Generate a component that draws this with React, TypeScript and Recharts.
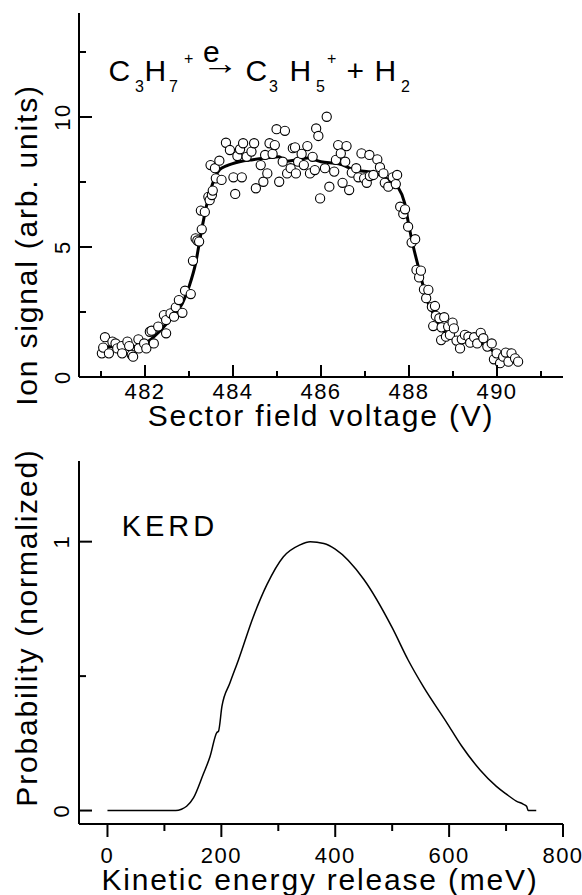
import React from 'react';
import { ComposedChart, Line, Scatter, XAxis, YAxis, Customized } from 'recharts';

const FONT = '"Liberation Sans", Arial, Helvetica, sans-serif';

// top panel: measured ion signal (open circles)
const voltage = [
  481.02, 481.05, 481.09, 481.18, 481.26, 481.33, 481.37, 481.47, 481.48, 481.6,
  481.64, 481.7, 481.73, 481.85, 481.86, 481.98, 482.03, 482.11, 482.15, 482.2,
  482.3, 482.43, 482.48, 482.48, 482.58, 482.66, 482.7, 482.77, 482.85, 482.91,
  483.04, 483.09, 483.15, 483.19, 483.23, 483.27, 483.29, 483.36, 483.44, 483.47,
  483.49, 483.52, 483.54, 483.59, 483.61, 483.69, 483.74, 483.84, 483.93, 484.01,
  484.05, 484.1, 484.16, 484.2, 484.23, 484.31, 484.42, 484.48, 484.52, 484.63,
  484.69, 484.73, 484.78, 484.83, 484.9, 484.95, 484.99, 485.05, 485.13, 485.18,
  485.23, 485.31, 485.36, 485.41, 485.43, 485.48, 485.56, 485.61, 485.69, 485.75,
  485.81, 485.86, 485.89, 485.94, 485.98, 486.09, 486.13, 486.19, 486.3, 486.34,
  486.39, 486.45, 486.49, 486.55, 486.58, 486.64, 486.7, 486.8, 486.85, 486.92,
  486.98, 487.04, 487.1, 487.11, 487.19, 487.28, 487.34, 487.42, 487.45, 487.53,
  487.63, 487.7, 487.73, 487.8, 487.87, 487.91, 487.98, 488.06, 488.14, 488.17,
  488.23, 488.27, 488.34, 488.39, 488.44, 488.52, 488.55, 488.59, 488.61, 488.69,
  488.73, 488.74, 488.8, 488.84, 488.89, 488.93, 488.99, 489.02, 489.08, 489.16,
  489.2, 489.27, 489.35, 489.39, 489.48, 489.55, 489.63, 489.69, 489.78, 489.88,
  489.93, 489.99, 490.07, 490.14, 490.2, 490.26, 490.33, 490.41, 490.48,
];
const signal = [
  0.91, 1.13, 1.53, 0.91, 1.36, 1.29, 1.1, 1.19, 0.91, 1.36,
  1.19, 0.85, 0.78, 1.45, 1.1, 1.29, 1.1, 1.74, 1.78, 1.29,
  1.94, 2.38, 2.19, 1.68, 2.45, 2.32, 2.68, 2.96, 2.47, 3.32,
  3.19, 4.47, 5.33, 5.25, 5.21, 6.4, 5.68, 6.35, 6.93, 6.8,
  8.15, 7.0, 7.17, 8.03, 7.64, 8.32, 7.58, 9.01, 8.73, 7.68,
  7.04, 8.5, 8.76, 7.68, 8.99, 8.47, 8.67, 8.99, 7.26, 8.15,
  7.51, 8.54, 7.83, 8.99, 8.58, 8.92, 9.53, 7.51, 8.28, 9.47,
  7.83, 8.03, 8.8, 8.83, 7.83, 8.28, 8.58, 8.15, 8.88, 7.83,
  8.47, 7.96, 9.56, 9.27, 6.87, 8.03, 10.01, 7.32, 7.9, 8.35,
  8.92, 8.6, 7.47, 8.28, 8.88, 7.19, 7.86, 8.03, 7.68, 8.6,
  7.64, 7.47, 8.54, 7.73, 7.77, 8.37, 8.07, 7.83, 7.47, 7.32,
  7.68, 7.42, 7.77, 6.55, 6.27, 6.45, 5.78, 5.17, 5.3, 4.12,
  3.83, 4.09, 3.37, 3.03, 3.35, 2.7, 1.96, 2.73, 2.35, 2.26,
  1.42, 1.91, 2.3, 1.55, 1.94, 1.62, 2.09, 1.87, 1.4, 1.1,
  1.45, 1.62, 1.55, 1.32, 1.53, 1.29, 1.7, 1.49, 1.17, 1.29,
  0.68, 0.91, 0.53, 0.78, 0.94, 0.59, 0.91, 0.72, 0.59,
];

// top panel: fitted curve (thick line)
const fitVoltage = [
  481.0, 481.3, 481.6, 481.8, 482.0, 482.3, 482.6, 482.85, 483.0, 483.15,
  483.27, 483.4, 483.55, 483.7, 483.85, 484.15, 484.45, 484.75, 485.05, 485.2,
  485.45, 485.7, 486.0, 486.4, 486.8, 487.15, 487.5, 487.75, 487.9, 488.0,
  488.1, 488.25, 488.4, 488.55, 488.7, 488.9, 489.15, 489.4, 489.6, 489.8,
  490.0, 490.2, 490.5,
];
const fitSignal = [
  1.17, 1.16, 1.15, 1.18, 1.29, 1.7, 2.28, 2.83, 3.47, 4.37,
  5.5, 6.6, 7.5, 7.98, 8.12, 8.28, 8.36, 8.42, 8.47, 8.3,
  8.35, 8.42, 8.28, 8.2, 7.95, 7.88, 7.62, 7.3, 6.7, 5.8,
  5.0, 4.0, 3.0, 2.45, 1.96, 1.58, 1.42, 1.36, 1.34, 1.15,
  0.86, 0.7, 0.68,
];

// bottom panel: kinetic energy release distribution
const kerEnergy = [
  0, 60, 120, 130, 139, 151, 168, 180, 192, 195,
  201, 215, 230, 256, 280, 309, 338, 356, 380, 400,
  450, 500, 528, 555, 595, 622, 654, 683, 700, 718,
  730, 736, 739, 753,
];
const kerProb = [
  0, 0, 0, 0.005, 0.016, 0.047, 0.134, 0.2, 0.29, 0.295,
  0.387, 0.474, 0.56, 0.72, 0.84, 0.944, 0.988, 1.0, 0.993, 0.972,
  0.86, 0.68, 0.56, 0.46, 0.33, 0.24, 0.152, 0.09, 0.062, 0.035,
  0.024, 0.016, 0, 0,
];

const voltTicks = [481, 482, 483, 484, 485, 486, 487, 488, 489, 490, 491];
const signalTicks = [0, 2.5, 5, 7.5, 10, 12.5];
const energyTicks = [0, 100, 200, 300, 400, 500, 600, 700, 800];
const probTicks = [0, 0.5, 1];

const points = voltage.map((x, i) => ({ x, y: signal[i] }));
const fit = fitVoltage.map((x, i) => ({ x, y: fitSignal[i] }));
const kerd = kerEnergy.map((x, i) => ({ x, y: kerProb[i] }));

const axisLine = { stroke: '#000', strokeWidth: 2 };
const tickText = { fontFamily: FONT, fontSize: 22, letterSpacing: 1.5, fill: '#000' };
const titleText = { fontFamily: FONT, fontSize: 30, letterSpacing: 1.8, fill: '#000' };

// ticks drawn by hand so they can point inward and have major/minor lengths
const VoltTick = ({ x, y, payload }: any) => {
  const major = payload.value % 2 === 0;
  return (
    <g>
      <line x1={x} x2={x} y1={y} y2={y - (major ? 12 : 6)} stroke="#000" strokeWidth={2} />
      {major && <text x={x} y={y + 22} textAnchor="middle" {...tickText}>{payload.value}</text>}
    </g>
  );
};

const SignalTick = ({ x, y, payload }: any) => {
  const major = payload.value % 5 === 0;
  return (
    <g>
      <line x1={x} x2={x + (major ? 13 : 7)} y1={y} y2={y} stroke="#000" strokeWidth={2} />
      {major && (
        <text transform={`translate(${x - 9},${y}) rotate(-90)`} textAnchor="middle" {...tickText}>
          {payload.value}
        </text>
      )}
    </g>
  );
};

const EnergyTick = ({ x, y, payload }: any) => {
  const major = payload.value % 200 === 0;
  return (
    <g>
      <line x1={x} x2={x} y1={y} y2={y + (major ? 13 : 7)} stroke="#000" strokeWidth={2} />
      {major && <text x={x} y={y + 39} textAnchor="middle" {...tickText}>{payload.value}</text>}
    </g>
  );
};

const ProbTick = ({ x, y, payload }: any) => {
  const major = payload.value % 1 === 0;
  return (
    <g>
      <line x1={x} x2={x + (major ? 13 : 7)} y1={y} y2={y} stroke="#000" strokeWidth={2} />
      {major && (
        <text transform={`translate(${x - 10},${y}) rotate(-90)`} textAnchor="middle" {...tickText}>
          {payload.value}
        </text>
      )}
    </g>
  );
};

const TopMinorTick = ({ x, y }: any) => (
  <line x1={x} x2={x} y1={y} y2={y + 3} stroke="#000" strokeWidth={1.5} />
);
const RightMinorTick = ({ x, y }: any) => (
  <line x1={x} x2={x - 3} y1={y} y2={y} stroke="#000" strokeWidth={1.5} />
);

const Dot = (props: any) => (
  <circle cx={props.cx} cy={props.cy} r={4.6} fill="#fff" stroke="#000" strokeWidth={1.1} />
);

const Reaction = () => (
  <g fontFamily={FONT} fill="#000">
    <text x={108.5} y={81} fontSize={30}>C</text>
    <text x={135} y={92} fontSize={16}>3</text>
    <text x={144.6} y={81} fontSize={30}>H</text>
    <text x={169} y={92} fontSize={16}>7</text>
    <text x={184} y={64} fontSize={16}>+</text>
    <text x={203} y={62} fontSize={30}>e</text>
    <text transform="translate(202,74) scale(1.15,1)" fontSize={32}>→</text>
    <text x={245.5} y={81} fontSize={30}>C</text>
    <text x={269} y={92} fontSize={16}>3</text>
    <text x={289.6} y={81} fontSize={30}>H</text>
    <text x={316} y={92} fontSize={16}>5</text>
    <text x={327} y={64} fontSize={16}>+</text>
    <text x={346.5} y={81} fontSize={30}>+</text>
    <text x={374.6} y={81} fontSize={30}>H</text>
    <text x={401} y={92} fontSize={16}>2</text>
  </g>
);

const Kerd = () => (
  <text x={121.7} y={96} fontFamily={FONT} fontSize={29} letterSpacing={4} fill="#000">KERD</text>
);

const App = () => (
  <div style={{ position: 'absolute', left: 0, top: 0, width: 582, height: 895, background: '#fff' }}>
    <div style={{ position: 'absolute', left: 0, top: 0 }}>
      <ComposedChart width={582} height={440} margin={{ top: 13, right: 19, bottom: 0, left: 0 }}>
        <XAxis
          xAxisId="b" type="number" dataKey="x" domain={[480.5, 491.5]} allowDataOverflow
          ticks={voltTicks} interval={0} height={63} tickSize={0} tickMargin={0}
          tickLine={false} axisLine={axisLine} tick={<VoltTick />}
          label={() => (
            <text x={321} y={426} textAnchor="middle" {...titleText}>Sector field voltage (V)</text>
          )}
        />
        <XAxis
          xAxisId="t" orientation="top" type="number" dataKey="x" domain={[480.5, 491.5]} allowDataOverflow
          ticks={voltTicks} interval={0} height={0} tickSize={0} tickMargin={0}
          tickLine={false} axisLine={axisLine} tick={<TopMinorTick />}
        />
        <YAxis
          yAxisId="l" type="number" dataKey="y" domain={[0, 14]} allowDataOverflow
          ticks={signalTicks} interval={0} width={79} tickSize={0} tickMargin={0}
          tickLine={false} axisLine={axisLine} tick={<SignalTick />}
          label={() => (
            <text transform="translate(37,245) rotate(-90)" textAnchor="middle" {...titleText}>
              Ion signal (arb. units)
            </text>
          )}
        />
        <YAxis
          yAxisId="r" orientation="right" type="number" dataKey="y" domain={[0, 14]} allowDataOverflow
          ticks={signalTicks} interval={0} width={0} tickSize={0} tickMargin={0}
          tickLine={false} axisLine={axisLine} tick={<RightMinorTick />}
        />
        <Scatter
          data={points} xAxisId="b" yAxisId="l" dataKey="y"
          shape={<Dot />} isAnimationActive={false}
        />
        <Line
          data={fit} xAxisId="b" yAxisId="l" dataKey="y" type="monotone"
          stroke="#000" strokeWidth={3} dot={false} activeDot={false} isAnimationActive={false}
        />
        <Customized component={Reaction} />
      </ComposedChart>
    </div>
    <div style={{ position: 'absolute', left: 0, top: 440 }}>
      <ComposedChart width={582} height={455} margin={{ top: 21, right: 19, bottom: 0, left: 0 }}>
        <XAxis
          xAxisId="b" type="number" dataKey="x" domain={[-50, 800]} allowDataOverflow
          ticks={energyTicks} interval={0} height={71} tickSize={0} tickMargin={0}
          tickLine={false} axisLine={axisLine} tick={<EnergyTick />}
          label={() => (
            <text x={320} y={450} textAnchor="middle" {...titleText}>Kinetic energy release (meV)</text>
          )}
        />
        <XAxis
          xAxisId="t" orientation="top" type="number" dataKey="x" domain={[-50, 800]} allowDataOverflow
          ticks={energyTicks} interval={0} height={0} tickSize={0} tickMargin={0}
          tickLine={false} axisLine={axisLine} tick={<TopMinorTick />}
        />
        <YAxis
          yAxisId="l" type="number" dataKey="y" domain={[-0.05, 1.3]} allowDataOverflow
          ticks={probTicks} interval={0} width={79} tickSize={0} tickMargin={0}
          tickLine={false} axisLine={axisLine} tick={<ProbTick />}
          label={() => (
            <text transform="translate(37,187.5) rotate(-90)" textAnchor="middle" {...titleText}>
              Probability (normalized)
            </text>
          )}
        />
        <YAxis
          yAxisId="r" orientation="right" type="number" dataKey="y" domain={[-0.05, 1.3]} allowDataOverflow
          ticks={probTicks} interval={0} width={0} tickSize={0} tickMargin={0}
          tickLine={false} axisLine={axisLine} tick={<RightMinorTick />}
        />
        <Line
          data={kerd} xAxisId="b" yAxisId="l" dataKey="y" type="monotone"
          stroke="#000" strokeWidth={1.5} dot={false} activeDot={false} isAnimationActive={false}
        />
        <Customized component={Kerd} />
      </ComposedChart>
    </div>
  </div>
);

export default App;
